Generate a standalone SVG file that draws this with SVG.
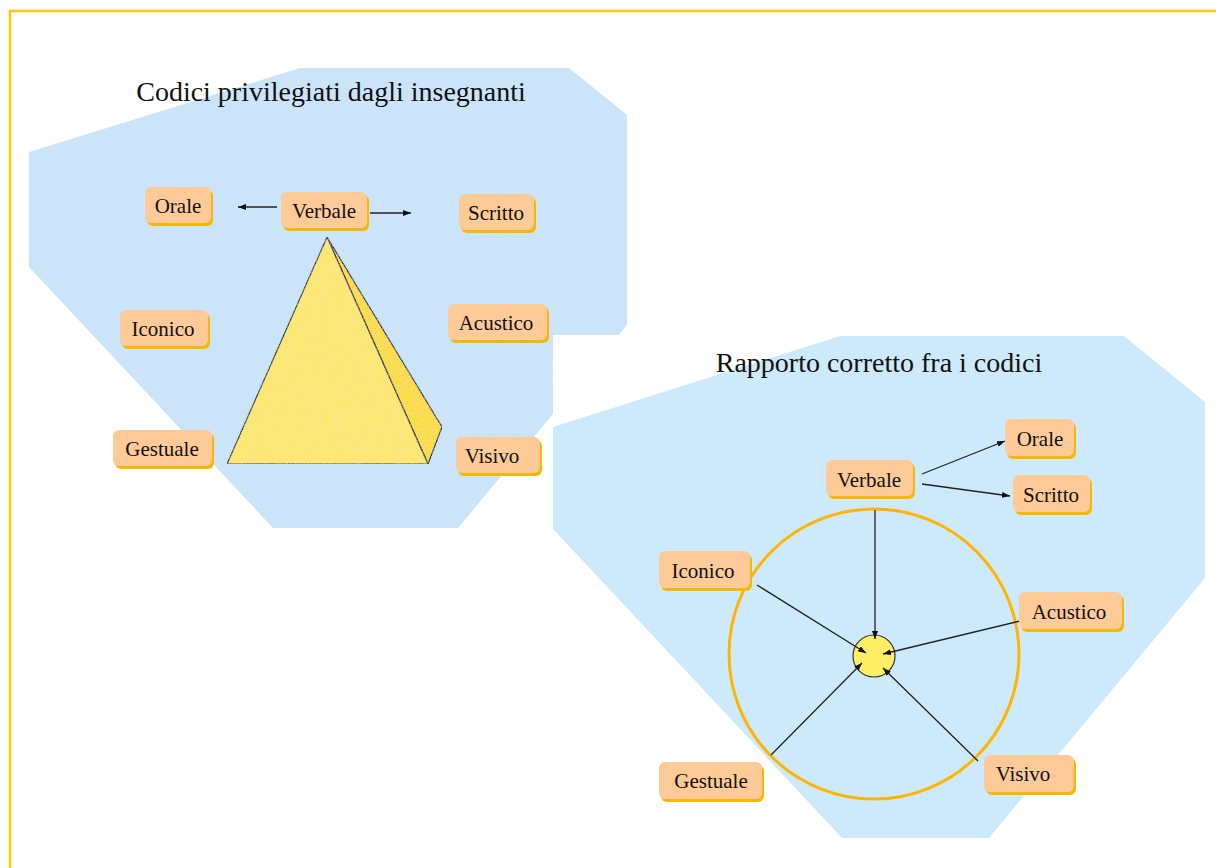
<svg xmlns="http://www.w3.org/2000/svg" width="1216" height="868" viewBox="0 0 1216 868">
<defs>
<style>
.t{font-family:"Liberation Serif","Times New Roman",serif;font-size:21px;fill:#111;text-anchor:middle}
.title{font-family:"Liberation Serif","Times New Roman",serif;font-size:28px;fill:#111;text-anchor:middle}
.box{fill:#fdca98}
.sh{fill:#f9b800}
.ln{stroke:#222;stroke-width:1.3;fill:none}
.lna{stroke:#222;stroke-width:1.3;fill:none;marker-end:url(#ah)}
</style>
<marker id="ah" viewBox="0 0 8 6" refX="8" refY="3" markerWidth="8" markerHeight="6" markerUnits="userSpaceOnUse" orient="auto">
<path d="M0,0 L8,3 L0,6 z" fill="#111"/>
</marker>
<filter id="tex" x="0" y="0" width="100%" height="100%">
<feTurbulence type="fractalNoise" baseFrequency="0.85" numOctaves="2" seed="4" result="n"/>
<feColorMatrix in="n" type="matrix" values="0 0 0 0 0.72  0 0 0 0 0.74  0 0 0 0 0.95  0 0 0 0.9 -0.35" result="c"/>
<feComposite in="c" in2="SourceGraphic" operator="atop"/>
</filter>
</defs>
<rect width="1216" height="868" fill="#ffffff"/>
<g id="frame" stroke="#ffcc00" stroke-width="2.5" fill="none">
<path d="M10,868 L10,11 L1216,11"/>
</g>
<g id="left-panel">
<polygon points="29,152 300,68 569,68 627,115 627,325 458,528 273,528 29,267" fill="#c8e5fa" filter="url(#tex)"/>
<text class="title" x="331" y="101">Codici privilegiati dagli insegnanti</text>
<g id="pyramid" stroke="#333" stroke-width="1.2" stroke-linejoin="round" filter="url(#tex)">
<polygon points="327,237 442,427 428,464" fill="#ffdc14"/>
<polygon points="327,237 428,464 227,464" fill="#ffe85a"/>
</g>
</g>
<rect id="right-panel-bg" x="553" y="335" width="663" height="533" fill="#ffffff"/>
<g id="right-panel">
<polygon points="553,427 840,336 1124,336 1205,402 1205,578 989,838 842,838 553,529" fill="#cdeafc"/>
<text class="title" x="879" y="372">Rapporto corretto fra i codici</text>
<circle cx="874" cy="654" r="145" fill="none" stroke="#ffb400" stroke-width="3"/>
<circle id="center" cx="874" cy="656" r="21" fill="#ffee66" stroke="#333" stroke-width="1.2"/>
</g>
<g id="connectors">
<line class="lna" x1="277" y1="207" x2="238" y2="207"/>
<line class="lna" x1="370" y1="213" x2="411" y2="213"/>
<line class="lna" x1="922" y1="474" x2="1005" y2="441"/>
<line class="lna" x1="922" y1="484" x2="1010" y2="496"/>
<line class="lna" x1="875" y1="510" x2="875" y2="639"/>
<line class="lna" x1="757" y1="585" x2="866" y2="653"/>
<line class="lna" x1="1020" y1="621" x2="883" y2="654"/>
<line class="lna" x1="771" y1="755" x2="862" y2="663"/>
<line class="lna" x1="978" y1="761" x2="883" y2="668"/>
</g>
<g id="n-orale-l"><rect class="sh" x="147" y="190" width="66" height="36" rx="6"/><rect class="box" x="145" y="187" width="66" height="36" rx="6"/><text class="t" x="178" y="213">Orale</text></g>
<g id="n-verbale-l"><rect class="sh" x="283" y="195" width="86" height="36" rx="6"/><rect class="box" x="281" y="192" width="86" height="36" rx="6"/><text class="t" x="324" y="218">Verbale</text></g>
<g id="n-scritto-l"><rect class="sh" x="461" y="197" width="75" height="36" rx="6"/><rect class="box" x="459" y="194" width="75" height="36" rx="6"/><text class="t" x="496" y="220">Scritto</text></g>
<g id="n-iconico-l"><rect class="sh" x="122" y="313" width="88" height="36" rx="6"/><rect class="box" x="120" y="310" width="88" height="36" rx="6"/><text class="t" x="163" y="336">Iconico</text></g>
<g id="n-acustico-l"><rect class="sh" x="450" y="307" width="99" height="36" rx="6"/><rect class="box" x="448" y="304" width="99" height="36" rx="6"/><text class="t" x="496" y="330">Acustico</text></g>
<g id="n-gestuale-l"><rect class="sh" x="115" y="433" width="99" height="36" rx="6"/><rect class="box" x="113" y="430" width="99" height="36" rx="6"/><text class="t" x="162" y="456">Gestuale</text></g>
<g id="n-visivo-l"><rect class="sh" x="458" y="440" width="84" height="36" rx="6"/><rect class="box" x="456" y="437" width="84" height="36" rx="6"/><text class="t" x="492" y="463">Visivo</text></g>
<g id="n-verbale-r"><rect class="sh" x="828" y="463" width="87" height="36" rx="6"/><rect class="box" x="826" y="460" width="87" height="36" rx="6"/><text class="t" x="869" y="487">Verbale</text></g>
<g id="n-orale-r"><rect class="sh" x="1007" y="422" width="69" height="37" rx="6"/><rect class="box" x="1005" y="419" width="69" height="37" rx="6"/><text class="t" x="1040" y="446">Orale</text></g>
<g id="n-scritto-r"><rect class="sh" x="1015" y="478" width="77" height="37" rx="6"/><rect class="box" x="1013" y="475" width="77" height="37" rx="6"/><text class="t" x="1051" y="502">Scritto</text></g>
<g id="n-iconico-r"><rect class="sh" x="661" y="554" width="91" height="37" rx="6"/><rect class="box" x="659" y="551" width="91" height="37" rx="6"/><text class="t" x="703" y="578">Iconico</text></g>
<g id="n-acustico-r"><rect class="sh" x="1021" y="595" width="103" height="37" rx="6"/><rect class="box" x="1019" y="592" width="103" height="37" rx="6"/><text class="t" x="1069" y="619">Acustico</text></g>
<g id="n-gestuale-r"><rect class="sh" x="661" y="765" width="103" height="37" rx="6"/><rect class="box" x="659" y="762" width="103" height="37" rx="6"/><text class="t" x="711" y="788">Gestuale</text></g>
<g id="n-visivo-r"><rect class="sh" x="986" y="758" width="90" height="37" rx="6"/><rect class="box" x="984" y="755" width="90" height="37" rx="6"/><text class="t" x="1023" y="781">Visivo</text></g>
</svg>
